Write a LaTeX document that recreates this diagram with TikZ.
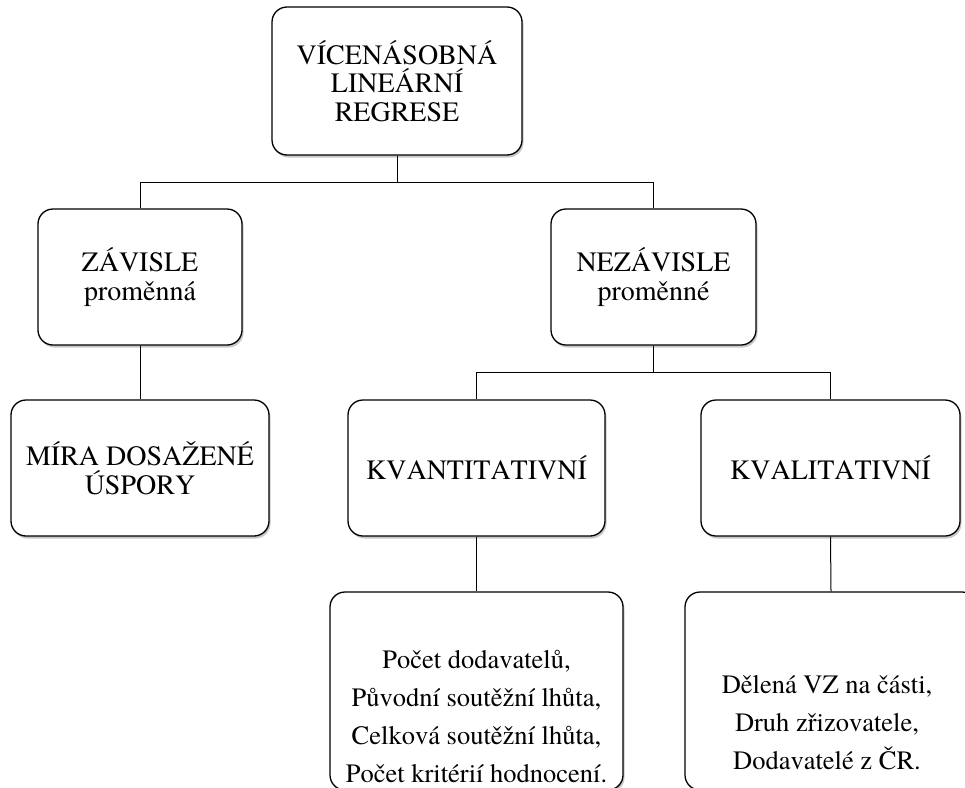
\documentclass[tikz,border=0pt]{standalone}
\usepackage{fontspec}
\setmainfont{TeX Gyre Termes}[Kerning=Off]
\usetikzlibrary{shadows}
\begin{document}
\begin{tikzpicture}[x=1pt,y=-1pt,
  box/.style={draw=black, line width=1.3pt, fill=white, rounded corners=15pt,
    align=center, inner sep=0pt, font=\fontsize{28}{28.6}\selectfont,
    drop shadow={shadow xshift=1.5pt, shadow yshift=-2.5pt, fill=black, opacity=0.22}},
  txt/.style={align=center, inner sep=0pt, font=\fontsize{26.5}{38}\selectfont},
  conn/.style={draw=black, line width=1pt}]
\useasboundingbox (0,0) rectangle (965,787);
\clip (0,0) rectangle (965,787);
\fill[white] (0,0) rectangle (965,787);
% boxes
\node[box, minimum width=250pt, minimum height=148pt] (top) at (397,81) {VÍCENÁSOBNÁ\\LINEÁRNÍ\\REGRESE};
\node[box, minimum width=204pt, minimum height=136pt] (zav) at (140,277) {ZÁVISLE\\proměnná};
\node[box, minimum width=205pt, minimum height=136pt] (nez) at (653.5,277) {NEZÁVISLE\\proměnné};
\node[box, minimum width=258pt, minimum height=136pt] (mira) at (140,468) {MÍRA DOSAŽENÉ\\ÚSPORY};
\node[box, minimum width=257pt, minimum height=136pt] (kvanti) at (476.5,468) {KVANTITATIVNÍ};
\node[box, minimum width=259pt, minimum height=136pt] (kvali) at (830.5,468) {KVALITATIVNÍ};
\node[box, minimum width=293pt, minimum height=198pt] (bl) at (476.5,691) {};
\node[box, minimum width=292pt, minimum height=198pt] (br) at (831,691) {};
\node[txt] (blt) at (476.5,716) {Počet dodavatelů,\\Původní soutěžní lhůta,\\Celková soutěžní lhůta,\\Počet kritérií hodnocení.};
\node[txt] (brt) at (827,723) {Dělená VZ na části,\\Druh zřizovatele,\\Dodavatelé z ČR.};
% junctions
\coordinate (j1) at (397,182);
\coordinate (j2) at (653.5,372);
% connectors
\draw[conn] (top.south) -- (j1) -| (zav.north);
\draw[conn] (j1) -| (nez.north);
\draw[conn] (zav.south) -- (mira.north);
\draw[conn] (nez.south) -- (j2) -| (kvanti.north);
\draw[conn] (j2) -| (kvali.north);
\draw[conn] (kvanti.south) -- (bl.north);
\draw[conn] (kvali.south) -- (br.north);
\end{tikzpicture}
\end{document}
